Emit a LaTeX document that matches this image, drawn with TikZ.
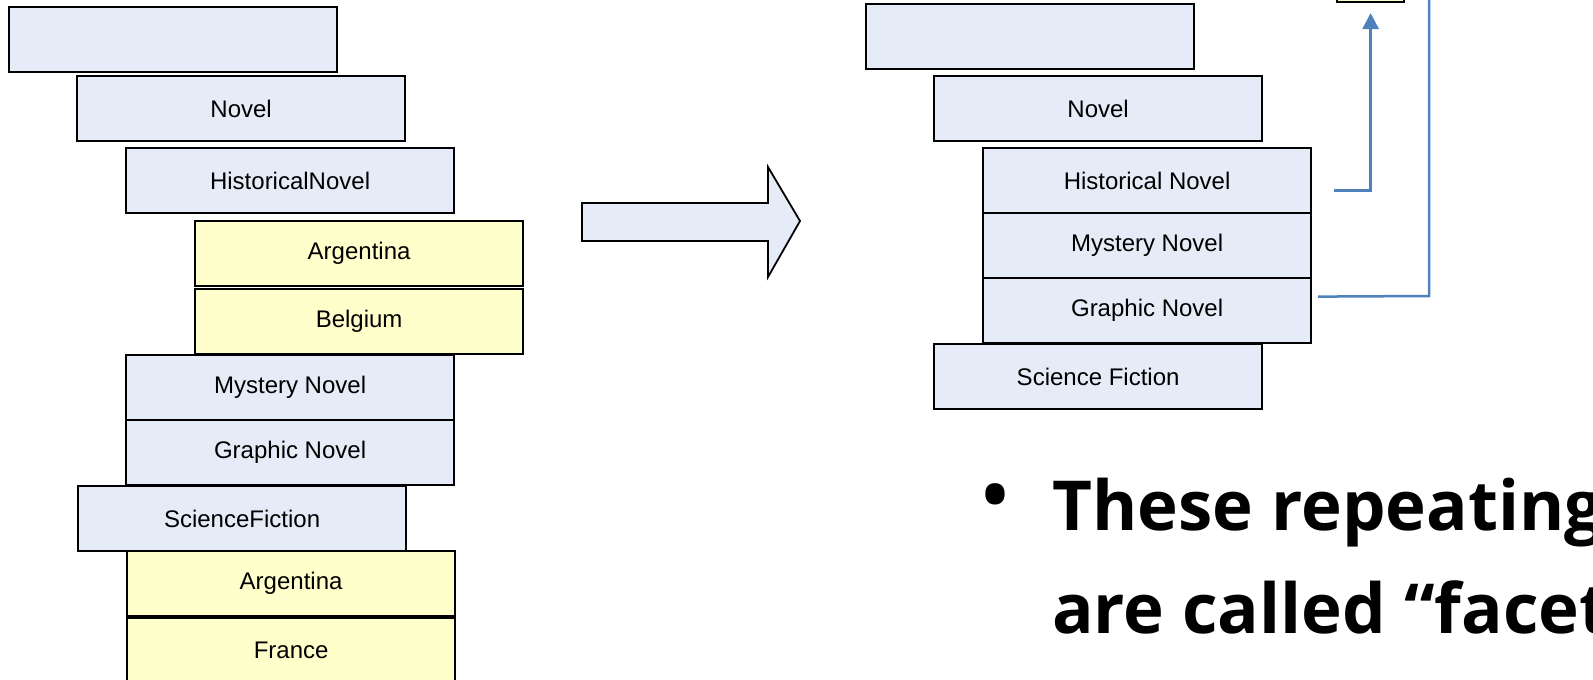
\documentclass[tikz,border=0pt]{standalone}
\usepackage{fontspec}
\setmainfont{Liberation Sans}
\newfontfamily\bulletfont{Open Sans}
\usetikzlibrary{arrows.meta}

\definecolor{boxblue}{HTML}{E6ECF7}
\definecolor{boxyellow}{HTML}{FFFFCC}
\definecolor{linkblue}{HTML}{4F81BD}

\begin{document}
\begin{tikzpicture}[x=1pt,y=-1pt,
  cell/.style={draw=black,line width=2.2pt,fill=boxblue,
    minimum width=328pt,minimum height=65pt,inner sep=0pt,
    anchor=north west,font=\fontsize{24}{28}\selectfont},
  facet/.style={cell,fill=boxyellow},
  link/.style={draw=linkblue,line width=2.5pt},
  bigfont/.style={font=\bulletfont\bfseries\fontsize{69}{84}\selectfont},
  bigtext/.style={bigfont,inner sep=0pt,anchor=base west}]

  \clip (0,0) rectangle (1593,680);
  \fill[white] (0,0) rectangle (1593,680);

  % record with repeated groups
  \node[cell] (la) at (8,6) {};
  \node[cell] (lnovel) at (76,75) {Novel};
  \node[cell] (lhist) at (125,147) {HistoricalNovel};
  \node[facet] (larg) at (194,220) {Argentina};
  \node[facet] (lbel) at (194,288) {Belgium};
  \node[cell] (lmys) at (125,354) {Mystery Novel};
  \node[cell] (lgra) at (125,419) {Graphic Novel};
  \node[cell] (lsci) at (77,485) {ScienceFiction};
  \node[facet] (larg2) at (126,550) {Argentina};
  \node[facet] (lfra) at (126,617) {France};

  % block arrow
  \draw[line width=1.8pt,fill=boxblue,line join=miter]
    (582,203) -- (768,203) -- (768,167) -- (800,221) -- (768,277)
    -- (768,241) -- (582,241) -- cycle;

  % record after factoring out the facets
  \node[cell] (ra) at (865,3) {};
  \node[cell] (rnovel) at (933,75) {Novel};
  \node[cell] (rhist) at (982,147) {Historical Novel};
  \node[cell] (rmys) at (982,212) {Mystery Novel};
  \node[cell] (rgra) at (982,277) {Graphic Novel};
  \node[cell] (rsci) at (933,343) {Science Fiction};

  % facet table above
  \node[draw=black,line width=2.2pt,fill=boxyellow,minimum width=67pt,
    minimum height=40pt,inner sep=0pt,anchor=south west] (ftab) at (1336,3) {};

  \coordinate (hstart) at ([shift={(22,10)}]rhist.east);
  \coordinate (gstart) at ([shift={(6,-14)}]rgra.east);
  \coordinate (gturn) at (1429,296);
  \coordinate (gend) at (1429,-5);

  \draw[link,-{Triangle[width=16pt,length=16pt]},shorten >=10pt]
    (hstart) -| (ftab.south);
  \draw[link] (gstart) -- (gturn) -- (gend);

  % bullet text
  \node[bigfont,inner sep=0pt] (dot) at (995,502) {\textbullet};
  \node[bigtext] (l1) at (1052,530) {These repeating};
  \node[bigtext] (l2) at (1052,633) {are called “facet};
\end{tikzpicture}
\end{document}
